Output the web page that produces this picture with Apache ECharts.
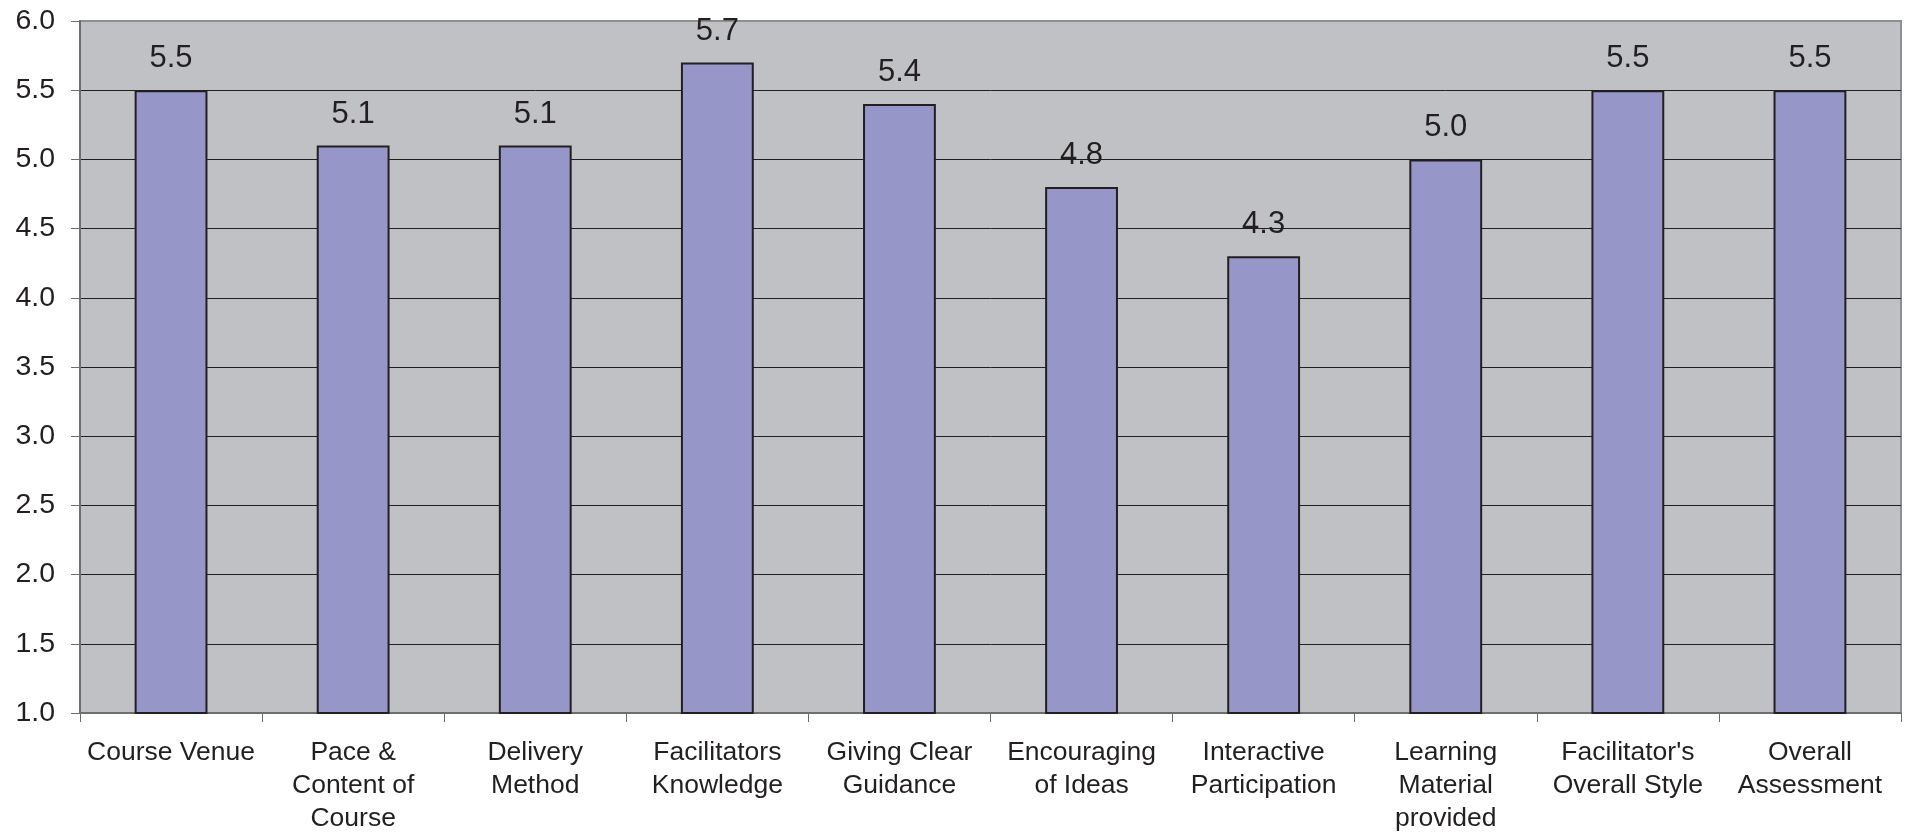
<!DOCTYPE html>
<html>
<head>
<meta charset="utf-8">
<script src="https://cdn.jsdelivr.net/npm/echarts@6/dist/echarts.min.js"></script>
<style>
  html, body { margin: 0; padding: 0; background: #ffffff; }
  #chart { width: 1905px; height: 835px; }
</style>
</head>
<body>
<div id="chart"></div>
<script>
// Course evaluation: average rating per aspect
const categories = [
  'Course Venue',
  'Pace &\nContent of\nCourse',
  'Delivery\nMethod',
  'Facilitators\nKnowledge',
  'Giving Clear\nGuidance',
  'Encouraging\nof Ideas',
  'Interactive\nParticipation',
  'Learning\nMaterial\nprovided',
  "Facilitator's\nOverall Style",
  'Overall\nAssessment'
];
const ratings = [5.5, 5.1, 5.1, 5.7, 5.4, 4.8, 4.3, 5.0, 5.5, 5.5];
const yMin = 1.0;
const yMax = 6.0;
const yStep = 0.5;

const textColor = '#231f20';
const fontFamily = '"Liberation Sans", Arial, sans-serif';

const chart = echarts.init(document.getElementById('chart'), null, { renderer: 'canvas' });
chart.setOption({
  animation: false,
  backgroundColor: '#ffffff',
  grid: {
    left: 80, right: 4, top: 21, bottom: 117,
    show: true,
    backgroundColor: '#c0c1c4',
    borderColor: '#8e8f92',
    borderWidth: 2
  },
  xAxis: {
    type: 'category',
    data: categories,
    axisLine: { show: true, lineStyle: { color: '#6d6e71', width: 2 } },
    axisTick: { show: true, alignWithLabel: false, length: 9, lineStyle: { color: '#6d6e71', width: 1 } },
    axisLabel: {
      interval: 0,
      margin: 23,
      color: textColor,
      fontFamily: fontFamily,
      fontSize: 26.5,
      lineHeight: 33,
      verticalAlign: 'top'
    },
    splitLine: { show: false }
  },
  yAxis: {
    type: 'value',
    min: yMin,
    max: yMax,
    interval: yStep,
    axisLine: { show: true, lineStyle: { color: '#6d6e71', width: 2 } },
    axisTick: { show: true, inside: false, length: 9, lineStyle: { color: '#6d6e71', width: 1 } },
    axisLabel: {
      margin: 25,
      color: textColor,
      fontFamily: fontFamily,
      fontSize: 28.5,
      formatter: v => v.toFixed(1)
    },
    splitLine: {
      show: true,
      showMinLine: false,
      showMaxLine: false,
      lineStyle: { color: '#231f20', width: 1 }
    }
  },
  series: [{
    type: 'bar',
    data: ratings,
    barWidth: '40%',
    itemStyle: {
      color: '#9696c8',
      borderColor: '#231f20',
      borderWidth: 2
    },
    label: {
      show: true,
      position: 'top',
      distance: 16,
      color: textColor,
      fontFamily: fontFamily,
      fontSize: 31,
      formatter: p => p.value.toFixed(1)
    }
  }]
});
</script>
</body>
</html>
